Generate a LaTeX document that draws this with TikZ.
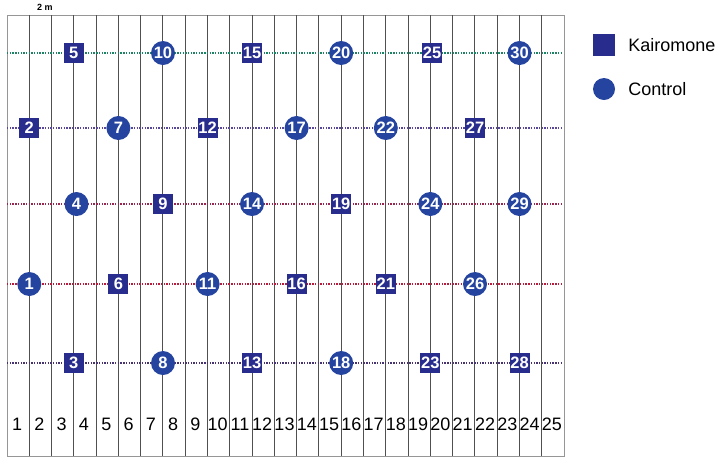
\documentclass[tikz,border=0pt]{standalone}
\usepackage{fontspec}
\setmainfont{Liberation Sans}
\usepackage{tikz}
\usetikzlibrary{positioning}
\definecolor{kairoblue}{RGB}{40,44,140}
\definecolor{ctrlblue}{RGB}{36,68,160}
\definecolor{stripgray}{RGB}{80,80,80}
\definecolor{framegray}{RGB}{150,150,150}
\definecolor{rowgreen}{RGB}{30,130,100}
\definecolor{rowpurple}{RGB}{90,70,150}
\definecolor{rowmaroon}{RGB}{150,40,80}
\definecolor{rowred}{RGB}{180,30,60}
\definecolor{rowdark}{RGB}{70,50,110}
\tikzset{
  kairo/.style={rectangle, fill=kairoblue, text=white, minimum size=20pt,
    inner sep=0pt, font=\fontsize{16.5}{16.5}\selectfont\bfseries},
  ctrl/.style={circle, fill=ctrlblue, text=white, minimum size=24pt,
    inner sep=0pt, font=\fontsize{16.5}{16.5}\selectfont\bfseries},
  strip/.style={color=stripgray, line width=1pt},
  rowline/.style={line width=1.3pt, dash pattern=on 1.4pt off 1.3pt},
  striplabel/.style={font=\fontsize{18}{18}\selectfont, inner sep=0pt},
  legendtext/.style={font=\fontsize{18}{18}\selectfont, anchor=west, inner sep=0pt}
}

\begin{document}
\begin{tikzpicture}[x=1pt, y=-1pt]
  \useasboundingbox (0,0) rectangle (720,459);

  % Plot outline and strips
  \draw[color=framegray, line width=1pt] (7,15) rectangle (564,456);
  \foreach \k in {1,...,24}
    \draw[strip] ({7+22.28*\k},15) -- ({7+22.28*\k},456);
  \foreach \k in {1,...,25}
    \node[striplabel] (s\k) at ({7+22.28*(\k-0.5)-1},424) {\k};
  \node[font=\fontsize{9}{9}\selectfont\bfseries, inner sep=0pt] (scale) at (45,7) {2 m};

  % Dotted transect rows
  \draw[rowline, rowgreen] (7,53) -- (563,53);
  \draw[rowline, rowpurple] (7,128) -- (563,128);
  \draw[rowline, rowmaroon] (7,204) -- (563,204);
  \draw[rowline, rowred] (7,284) -- (563,284);
  \draw[rowline, rowdark] (7,363) -- (563,363);

  % Traps, first block
  \node[ctrl] (m1) at (29.3,284) {1};
  \node[kairo] (m2) at (29.3,128) {2};
  \node[kairo] (m3) at (73.8,363) {3};
  \node[ctrl] (m4) at (76.5,204) {4};
  \node[kairo] (m5) at (73.8,53) {5};
  \node[kairo] (m6) at (118.4,284) {6};
  \node[ctrl] (m7) at (118.4,128) {7};
  \node[ctrl] (m8) at (163,363) {8};
  \node[kairo] (m9) at (163,204) {9};
  \node[ctrl] (m10) at (163,53) {10};
  \node[ctrl] (m11) at (207.6,284) {11};
  \node[kairo] (m12) at (207.6,128) {12};
  \node[kairo] (m13) at (252,363) {13};
  \node[ctrl] (m14) at (252,204) {14};
  \node[kairo] (m15) at (252,53) {15};

  % Traps, second block
  \node[kairo] (m16) at (296.6,284) {16};
  \node[ctrl] (m17) at (296.6,128) {17};
  \node[ctrl] (m18) at (341.2,363) {18};
  \node[kairo] (m19) at (341.2,204) {19};
  \node[ctrl] (m20) at (341.2,53) {20};
  \node[kairo] (m21) at (385.8,284) {21};
  \node[ctrl] (m22) at (385.8,128) {22};
  \node[kairo] (m23) at (430.3,363) {23};
  \node[ctrl] (m24) at (430.3,204) {24};
  \node[kairo] (m25) at (432,53) {25};
  \node[ctrl] (m26) at (475,284) {26};
  \node[kairo] (m27) at (475,128) {27};
  \node[kairo] (m28) at (519.5,363) {28};
  \node[ctrl] (m29) at (519.5,204) {29};
  \node[ctrl] (m30) at (519.5,53) {30};

  % Legend
  \node[kairo, minimum size=22pt] (keyk) at (604,45) {};
  \node[ctrl, minimum size=22pt] (keyc) at (604,89) {};
  \node[legendtext, right=13pt of keyk] (keyktext) {Kairomone};
  \node[legendtext, right=13pt of keyc] (keyctext) {Control};
\end{tikzpicture}
\end{document}
